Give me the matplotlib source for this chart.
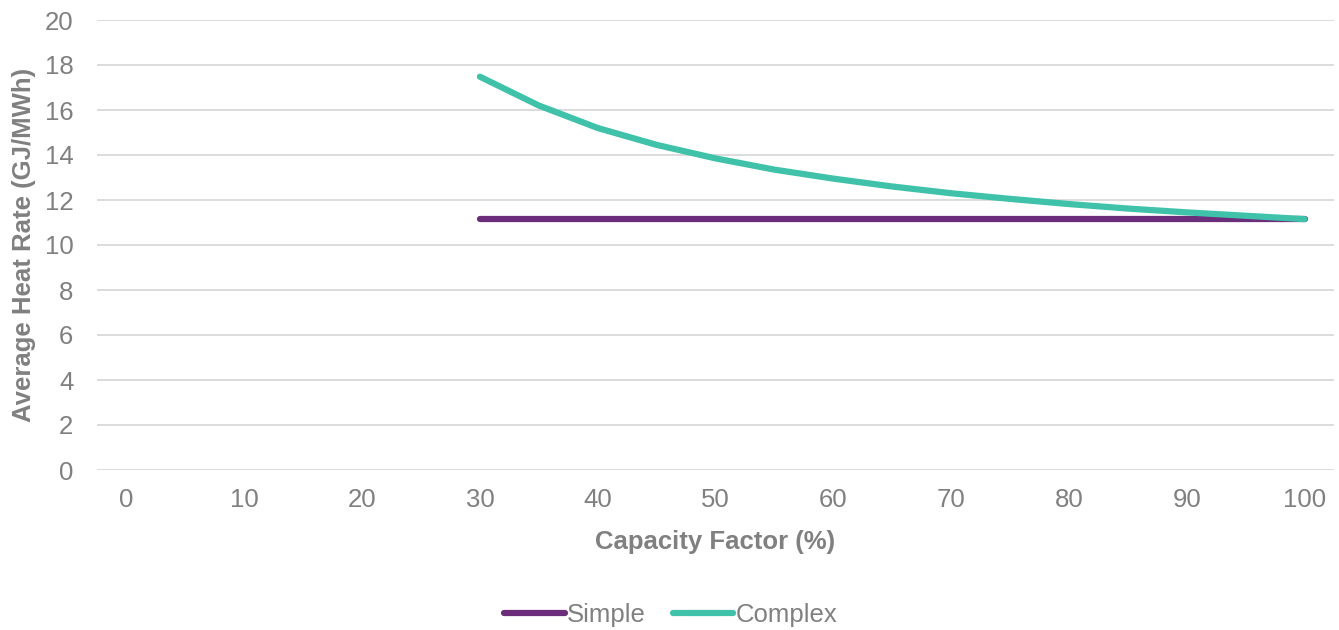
import numpy as np
import matplotlib
matplotlib.use('Agg')
import matplotlib.pyplot as plt

plt.rcParams['font.family'] = ['Liberation Sans', 'DejaVu Sans']

# capacity factor (%) and heat rates
cap_factor = [30, 35, 40, 45, 50, 55, 60, 65, 70, 75, 80, 85, 90, 95, 100]
simple = [11.15] * 15
complex_hr = [17.48, 16.2, 15.2, 14.45, 13.85, 13.35, 12.95, 12.6, 12.3, 12.05,
              11.82, 11.62, 11.45, 11.3, 11.15]

x_ticks = list(range(0, 101, 10))
y_ticks = list(range(0, 21, 2))

grey = '#808080'
purple = '#6C2E7A'
teal = '#40C2AA'
fs = 18.5

fig = plt.figure(figsize=(13.39, 6.3), dpi=100)
ax = fig.add_axes([97 / 1339, 160 / 630, 1237 / 1339, 450 / 630])

ax.plot(cap_factor, simple, color=purple, lw=4.5, solid_capstyle='round', label='Simple', zorder=3)
ax.plot(cap_factor, complex_hr, color=teal, lw=4.5, solid_capstyle='round', label='Complex', zorder=4)

ax.set_xlim(-2.5, 102.5)
ax.set_ylim(0, 20)
ax.set_xticks(x_ticks)
ax.set_yticks(y_ticks)
ax.grid(axis='y', color='#D9D9D9', lw=1.3)
ax.set_axisbelow(True)
for s in ax.spines.values():
    s.set_visible(False)
ax.tick_params(length=0, labelsize=fs, colors=grey, pad=13)
ax.tick_params(axis='y', pad=17)

ax.set_xlabel('Capacity Factor (%)', fontsize=fs, fontweight='bold', color=grey, labelpad=13)
ax.set_ylabel('Average Heat Rate (GJ/MWh)', fontsize=fs, fontweight='bold', color=grey, labelpad=6)

leg = fig.legend(loc='center', bbox_to_anchor=(671 / 1339, 1 - 615 / 630), ncol=2, frameon=False,
                 fontsize=fs, handlelength=2.35, handletextpad=0.1, columnspacing=1.05)
for t in leg.get_texts():
    t.set_color(grey)

fig.savefig('out.png', dpi=100)
